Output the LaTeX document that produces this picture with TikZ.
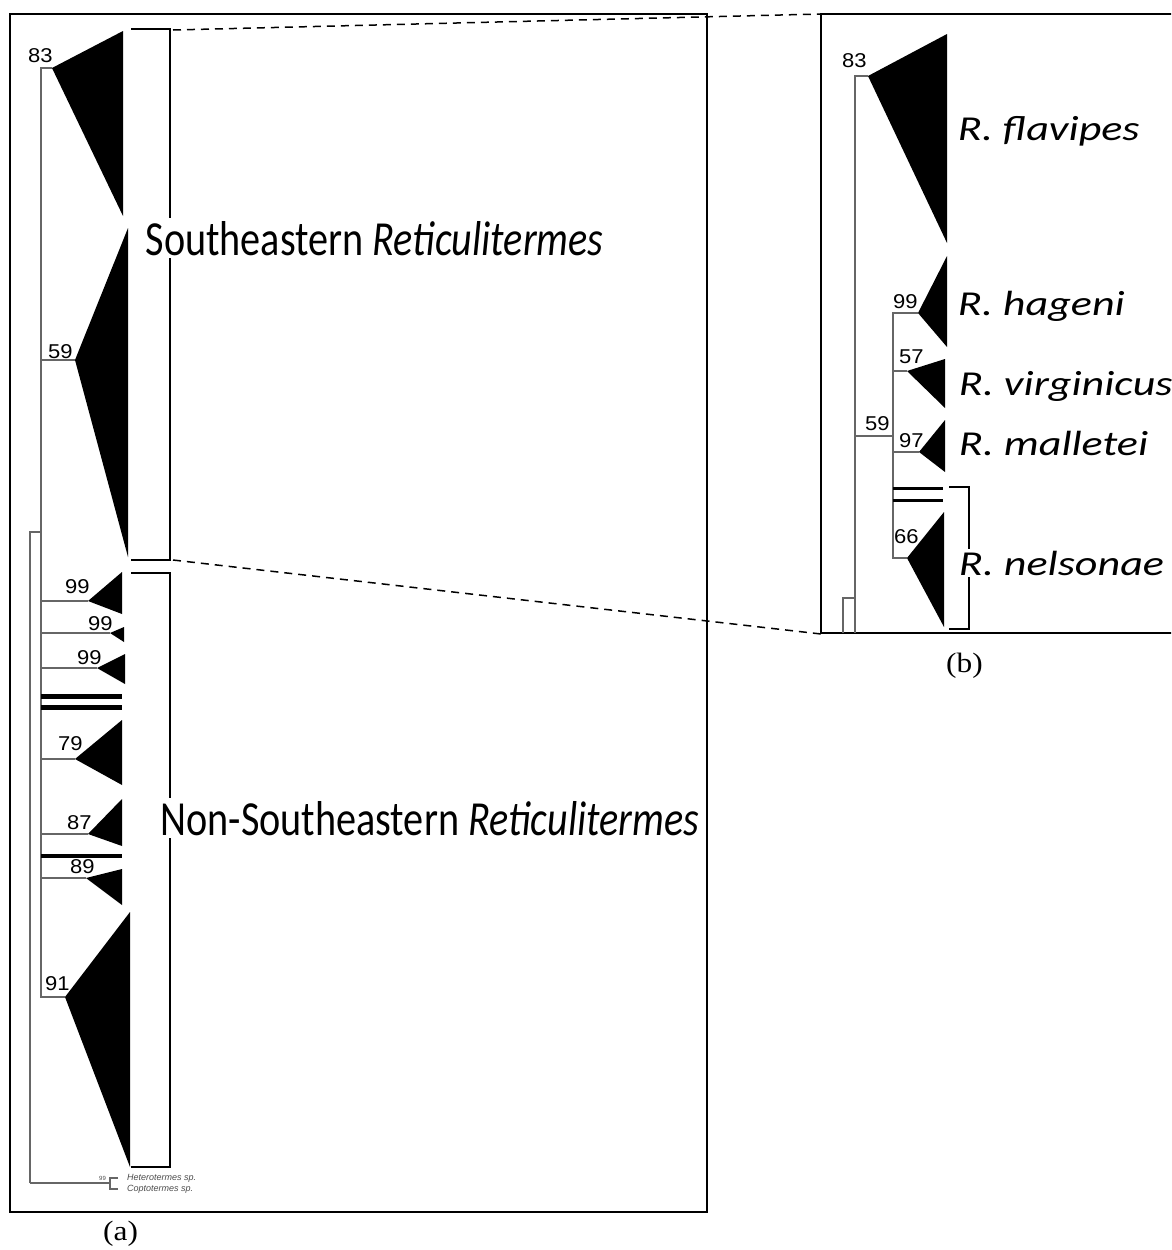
\documentclass[tikz,border=0pt]{standalone}
\usepackage{fontspec}
\setmainfont{Liberation Serif}
\newfontfamily\calibri{Carlito}
\newfontfamily\arial{Liberation Sans}
\begin{document}
\begin{tikzpicture}[x=1pt,y=-1pt,line join=miter,
	branch/.style={black!60,line width=1.2pt},
	frame/.style={line width=2pt},
	bar/.style={line width=5pt},
	zoomline/.style={dashed,line width=1.5pt,dash pattern=on 8pt off 6pt},
	boot/.style={anchor=base west,inner sep=0pt,xscale=1.1,font=\arial\fontsize{20}{20}\selectfont},
	grp/.style={anchor=base west,inner sep=3pt,fill=white,xscale=0.82,font=\calibri\fontsize{49}{49}\selectfont},
	taxon/.style={anchor=base west,inner sep=2pt,fill=white,xscale=1.26,font=\calibri\itshape\fontsize{35}{35}\selectfont},
	outg/.style={anchor=base west,inner sep=0pt,black!70,font=\arial\itshape\fontsize{9}{9}\selectfont},
	panel/.style={anchor=base west,inner sep=0pt,xscale=1.12,font=\fontsize{28}{28}\selectfont}]
	\clip (0,0) rectangle (1171,1250);
	% panel (a): whole tree
	\draw[frame] (10,14) rectangle (707,1212);
	\draw[branch] (30,1183) -- (30,532) -- (41,532);
	\draw[branch] (52,68) -- (41,68) -- (41,997) -- (65,997);
	\draw[branch] (41,360) -- (75,360);
	\draw[branch] (41,601) -- (88,601);
	\draw[branch] (41,633) -- (110,633);
	\draw[branch] (41,668) -- (97,668);
	\draw[branch] (41,759) -- (75,759);
	\draw[branch] (41,834) -- (88,834);
	\draw[branch] (41,878) -- (86,878);
	% collapsed clades
	\fill (52,68) -- (123,31) -- (123,216) -- cycle;
	\fill (75,360) -- (128,228) -- (128,557) -- cycle;
	\fill (88,601) -- (122,572) -- (122,614) -- cycle;
	\fill (110,633) -- (124,627) -- (124,642) -- cycle;
	\fill (97,668) -- (125,654) -- (125,684) -- cycle;
	\fill (75,759) -- (122,720) -- (122,785) -- cycle;
	\fill (88,834) -- (122,799) -- (122,846) -- cycle;
	\fill (86,878) -- (122,869) -- (122,905) -- cycle;
	\fill (65,997) -- (130,912) -- (130,1167) -- cycle;
	\draw[bar] (41,696) -- (122,696);
	\draw[bar] (41,707) -- (122,707);
	\draw[line width=4pt] (41,856) -- (122,856);
	% outgroups
	\draw[branch] (30,1183) -- (110,1183);
	\draw[branch] (118,1178) -- (110,1178) -- (110,1189) -- (118,1189);
	% brackets
	\draw[frame] (131,29) -- (170,29) -- (170,560) -- (131,560);
	\draw[frame] (131,573) -- (170,573) -- (170,1167) -- (131,1167);
	\draw[zoomline] (173,30) -- (821,14);
	\draw[zoomline] (173,560) -- (821,634);
	\path
	(28,62) node[boot] (a83) {83}
	(48,358) node[boot] (a59) {59}
	(65,593) node[boot] (a99a) {99}
	(88,630) node[boot] (a99b) {99}
	(77,664) node[boot] (a99c) {99}
	(58,750) node[boot] (a79) {79}
	(67,829) node[boot] (a87) {87}
	(70,873) node[boot] (a89) {89}
	(45,990) node[boot] (a91) {91}
	(99,1180) node[anchor=base west,inner sep=0pt,black!70,font=\arial\fontsize{6}{6}\selectfont] (a99o) {99}
	(127,1180) node[outg] (hetero) {Heterotermes sp.}
	(127,1191) node[outg] (copto) {Coptotermes sp.}
	;
	\node[grp] (se) at (143,255) {Southeastern \textit{Reticulitermes}};
	\node[grp] (nonse) at (158,835) {Non-Southeastern \textit{Reticulitermes}};
	\node[panel] (cap-a) at (103,1240) {(a)};
	% panel (b): zoom on the southeastern clade
	\draw[frame] (821,14) rectangle (1185,633);
	\draw[branch] (843,633) -- (843,598) -- (855,598);
	\draw[branch] (868,76) -- (855,76) -- (855,633);
	\draw[branch] (855,436) -- (893,436);
	\draw[branch] (918,313) -- (893,313) -- (893,558) -- (907,558);
	\draw[branch] (893,371) -- (907,371);
	\draw[branch] (893,452) -- (919,452);
	\fill (868,76) -- (947,34) -- (947,243) -- cycle;
	\fill (918,313) -- (947,256) -- (947,347) -- cycle;
	\fill (907,371) -- (945,359) -- (945,408) -- cycle;
	\fill (919,452) -- (945,420) -- (945,472) -- cycle;
	\fill (907,558) -- (944,512) -- (944,627) -- cycle;
	\draw[line width=3pt] (893,488) -- (943,488);
	\draw[line width=3pt] (893,500) -- (943,500);
	\draw[frame] (949,487) -- (969,487) -- (969,629) -- (949,629);
	\path
	(842,67) node[boot] (b83) {83}
	(893,308) node[boot] (b99) {99}
	(899,363) node[boot] (b57) {57}
	(865,430) node[boot] (b59) {59}
	(899,447) node[boot] (b97) {97}
	(894,543) node[boot] (b66) {66}
	;
	\node[taxon] (flav) at (955,140) {R. flavipes};
	\node[taxon] (hag) at (955,315) {R. hageni};
	\node[taxon] (virg) at (956,395) {R. virginicus};
	\node[taxon] (mall) at (956,455) {R. malletei};
	\node[taxon] (nels) at (956,575) {R. nelsonae};
	\node[panel] (cap-b) at (946,672) {(b)};
\end{tikzpicture}
\end{document}
